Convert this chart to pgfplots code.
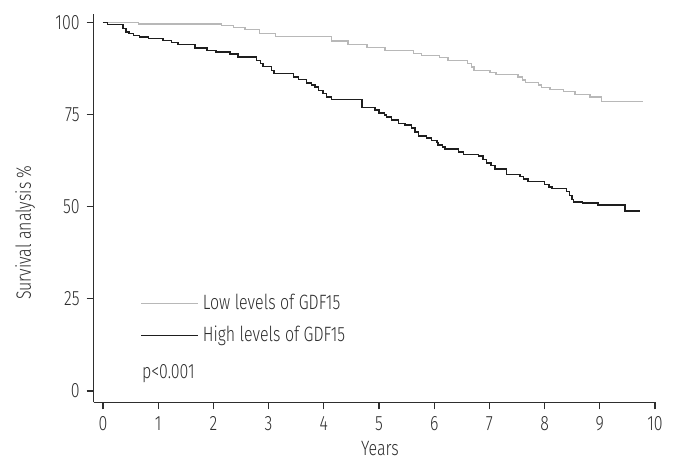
\documentclass[border=0pt]{standalone}
\usepackage{fontspec}
\setmainfont[FakeStretch=0.77]{Fira Sans Light}
\usepackage{pgfplots}
\pgfplotsset{compat=1.18}
\definecolor{axcol}{HTML}{2E2E2E}
\definecolor{lowcol}{HTML}{B8B8B8}
\definecolor{highcol}{HTML}{1E1E1E}
\begin{document}
\begin{tikzpicture}
\begin{axis}[
  x=27.6bp, y=1.8425bp,
  xmin=-0.17, xmax=10, ymin=-3.1, ymax=102.3,
  axis lines=left, axis line style={-, draw=axcol, line width=0.6bp},
  tick align=outside, major tick length=3.5bp,
  tick style={draw=axcol, line width=0.6bp},
  xtick={0,1,...,10}, ytick={0,25,50,75,100},
  /pgf/number format/assume math mode=true,
  tick label style={font=\fontsize{10.4}{12}\selectfont, text=axcol},
  label style={font=\fontsize{10.4}{12}\selectfont, text=axcol},
  xlabel={Years}, ylabel={Survival analysis \%},
  xlabel style={at={(rel axis cs:0.510,-0.118)}, anchor=center},
  ylabel style={at={(rel axis cs:-0.122,0.437)}, anchor=center},
  legend style={draw=none, fill=none, at={(axis cs:0.67,27.5)}, anchor=north west,
    font=\fontsize{10.4}{12}\selectfont, text=axcol, row sep=3bp, inner sep=0pt},
  legend cell align=left,
  legend image code/.code={\draw[#1] (0bp,0bp) -- (28.5bp,0bp);},
  clip=false,
]
\addplot[const plot mark left, lowcol, line width=0.65bp] coordinates {
(0,100)(0.64,99.6)(2.15,99.2)(2.36,98.6)(2.57,98.0)(2.84,97.0)(3.12,96.1)
(4.14,95.0)(4.44,94.1)(4.78,93.3)(5.11,92.4)(5.62,91.5)(5.77,91.1)(6.1,90.4)
(6.25,89.6)(6.6,88.8)(6.67,87.9)(6.72,87.0)(7.01,86.4)(7.12,85.9)(7.52,85.2)
(7.6,84.4)(7.66,83.8)(7.89,83.0)(7.95,82.4)(8.1,81.9)(8.34,81.2)(8.55,80.5)
(8.82,79.8)(9.03,78.5)(9.79,78.5)};
\addlegendentry{Low levels of GDF15}
\addplot[const plot mark left, highcol, line width=0.75bp] coordinates {
(0,100)(0.08,99.4)(0.36,98.4)(0.42,97.4)(0.47,97.0)(0.55,96.5)(0.66,96.0)
(0.82,95.6)(1.09,95.1)(1.24,94.5)(1.36,94.0)(1.67,93.1)(1.88,92.4)(2.05,92.0)
(2.30,91.5)(2.45,90.6)(2.78,89.7)(2.85,88.8)(2.9,88.1)(3.05,87.0)(3.1,86.1)
(3.45,85.2)(3.54,84.5)(3.69,83.6)(3.78,83.0)(3.84,82.5)(3.9,81.5)(3.99,80.7)
(4.05,79.8)(4.14,79.1)(4.69,76.9)(4.93,76.2)(5.0,75.5)(5.1,74.9)(5.14,74.4)
(5.23,73.5)(5.35,72.6)(5.47,72.2)(5.59,71.3)(5.65,70.3)(5.72,69.2)(5.86,68.6)
(5.95,68.0)(6.05,67.4)(6.07,66.8)(6.15,66.2)(6.2,65.6)(6.44,64.9)(6.53,64.2)
(6.8,63.8)(6.88,62.8)(6.95,61.9)(7.03,61.2)(7.1,60.2)(7.31,58.8)(7.55,58.2)
(7.62,57.5)(7.7,56.8)(8.0,56.0)(8.08,55.3)(8.13,54.9)(8.4,54.1)(8.45,53.0)
(8.5,51.9)(8.52,51.3)(8.69,51.0)(8.97,50.5)(9.46,48.8)(9.73,48.8)};
\addlegendentry{High levels of GDF15}
\node[anchor=base west, inner sep=0pt, font=\fontsize{10.4}{12}\selectfont, text=axcol]
  at (axis cs:0.70,3.5) {p<0.001};
\coordinate (bl) at (axis cs:-1.866,-17.37);
\coordinate (tr) at (axis cs:10.453,106.1);
\end{axis}
\path (bl) rectangle (tr);
\end{tikzpicture}
\end{document}
